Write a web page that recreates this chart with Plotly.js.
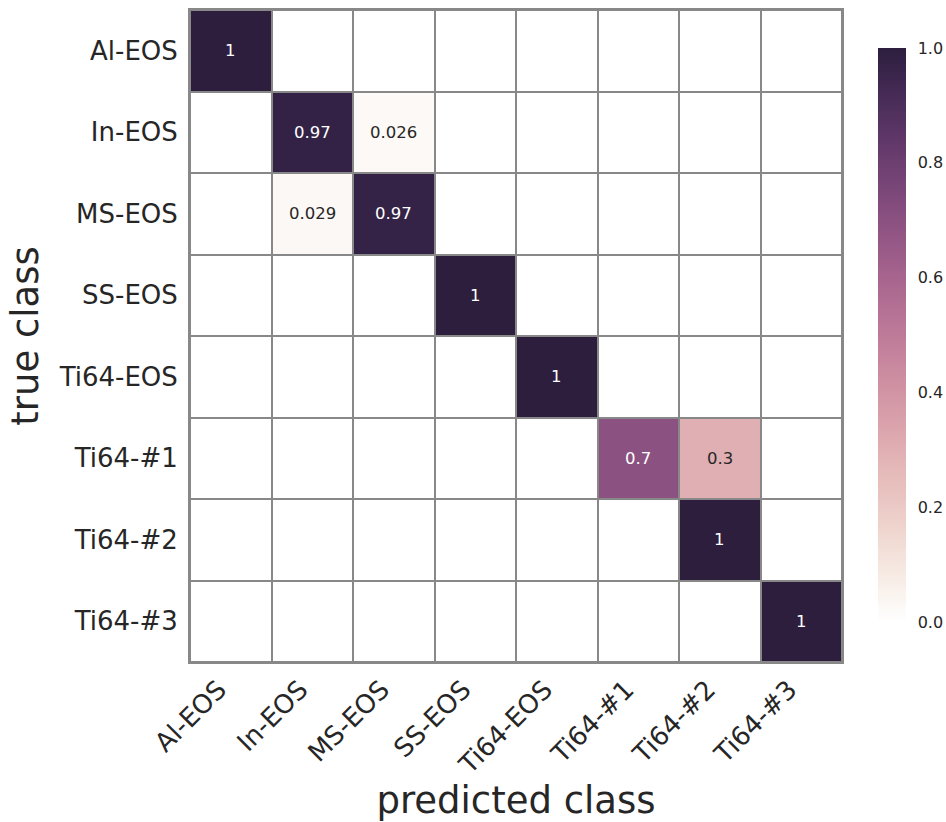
<!DOCTYPE html>
<html>
<head>
<meta charset="utf-8">
<script src="https://cdn.plot.ly/plotly-3.0.1.min.js"></script>
<style>html,body{margin:0;padding:0;background:#fff;}#chart{width:946px;height:822px;}</style>
</head>
<body>
<div id="chart"></div>
<script>
// ---- data ----
const classes = ["Al-EOS", "In-EOS", "MS-EOS", "SS-EOS", "Ti64-EOS", "Ti64-#1", "Ti64-#2", "Ti64-#3"];
const rowAl   = [1, 0, 0, 0, 0, 0, 0, 0];
const rowIn   = [0, 0.974, 0.026, 0, 0, 0, 0, 0];
const rowMS   = [0, 0.029, 0.971, 0, 0, 0, 0, 0];
const rowSS   = [0, 0, 0, 1, 0, 0, 0, 0];
const rowTiE  = [0, 0, 0, 0, 1, 0, 0, 0];
const rowTi1  = [0, 0, 0, 0, 0, 0.7, 0.3, 0];
const rowTi2  = [0, 0, 0, 0, 0, 0, 1, 0];
const rowTi3  = [0, 0, 0, 0, 0, 0, 0, 1];
const matrix = [rowAl, rowIn, rowMS, rowSS, rowTiE, rowTi1, rowTi2, rowTi3];
const cbTicks = [0, 0.2, 0.4, 0.6, 0.8, 1.0];

// ---- seaborn cubehelix colormap (light=1, dark=0.15) ----
function cubehelix(x) {
  const start = 0, rot = 0.4, gamma = 1, hue = 0.8;
  const xg = Math.pow(x, gamma);
  const a = hue * xg * (1 - xg) / 2;
  const phi = 2 * Math.PI * (start / 3 + rot * x);
  const f = (p0, p1) => Math.min(1, Math.max(0, xg + a * (p0 * Math.cos(phi) + p1 * Math.sin(phi))));
  return [f(-0.14861, 1.78277), f(-0.29227, -0.90649), f(1.97294, 0)];
}
function cmap(v) {
  const x = 1 + (0.15 - 1) * v;
  return cubehelix(x).map(t => Math.round(t * 255));
}
const colorscale = [];
for (let i = 0; i <= 40; i++) {
  const v = i / 40;
  const c = cmap(v);
  colorscale.push([v, `rgb(${c[0]},${c[1]},${c[2]})`]);
}

function fmt(v) { return String(Number(v.toPrecision(2))); }

const annotations = [];
matrix.forEach((row, i) => {
  row.forEach((v, j) => {
    if (v === 0) return;
    const c = cmap(v);
    const lum = 0.2126 * c[0] + 0.7152 * c[1] + 0.0722 * c[2];
    annotations.push({
      x: classes[j], y: classes[i], xref: 'x', yref: 'y',
      text: fmt(v), showarrow: false,
      font: {family: 'DejaVu Sans', size: 16.5, color: lum > 0.408 * 255 ? '#262626' : '#ffffff'}
    });
  });
});

const trace = {
  type: 'heatmap',
  x: classes, y: classes, z: matrix,
  zmin: 0, zmax: 1,
  colorscale: colorscale,
  xgap: 2, ygap: 2,
  hoverinfo: 'skip',
  colorbar: {
    thickness: 28, thicknessmode: 'pixels',
    len: 574, lenmode: 'pixels',
    x: 1.0552, xanchor: 'left', xpad: 0,
    y: 0.5015, yanchor: 'middle', ypad: 0,
    outlinewidth: 0,
    tickvals: cbTicks, tickformat: '.1f',
    ticks: 'outside', ticklen: 9, tickcolor: 'rgba(0,0,0,0)',
    tickfont: {family: 'DejaVu Sans', size: 16, color: '#262626'}
  }
};

const axisCommon = {
  type: 'category',
  showgrid: false, zeroline: false,
  showline: true, mirror: true, linecolor: '#888888', linewidth: 2,
  ticks: '',
  tickfont: {family: 'DejaVu Sans', size: 26, color: '#262626'}
};

const layout = {
  width: 946, height: 822,
  margin: {l: 190, r: 104, t: 10, b: 160, autoexpand: false},
  paper_bgcolor: '#ffffff', plot_bgcolor: '#888888',
  font: {family: 'DejaVu Sans', color: '#262626'},
  xaxis: Object.assign({}, axisCommon, {
    tickangle: -45,
    ticklabelstandoff: 0,
    ticklabelshift: -12,
    title: {text: 'predicted class', font: {family: 'DejaVu Sans', size: 37, color: '#262626'}, standoff: 25}
  }),
  yaxis: Object.assign({}, axisCommon, {
    autorange: 'reversed',
    ticklabelstandoff: 5,
    title: {text: 'true class', font: {family: 'DejaVu Sans', size: 37, color: '#262626'}, standoff: 9}
  }),
  annotations: annotations
};

Plotly.newPlot('chart', [trace], layout, {displayModeBar: false, staticPlot: true});
</script>
</body>
</html>
